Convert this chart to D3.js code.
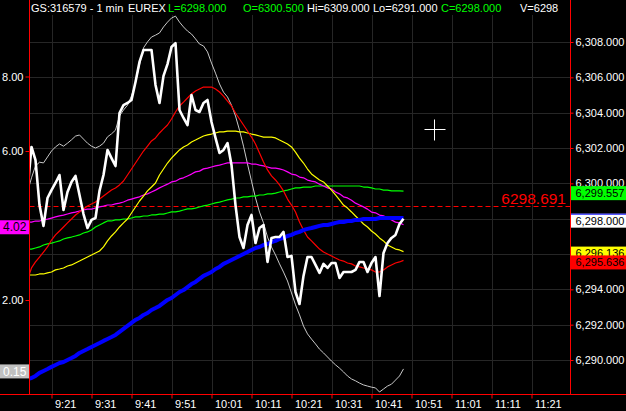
<!DOCTYPE html>
<html><head><meta charset="utf-8">
<script src="https://cdn.jsdelivr.net/npm/d3@7"></script>
<style>
html,body{margin:0;padding:0;background:#000;}
svg{display:block;}
text{font-family:"Liberation Sans",Arial,sans-serif;}
</style></head><body>
<svg id="c" width="626" height="411"></svg>
<script>
// ---------------- DATA ----------------
const headerItems = ["GS:316579 - 1 min", "EUREX", "L=6298.000", "O=6300.500", "Hi=6309.000", "Lo=6291.000", "C=6298.000", "V=6298"];
const firstBarTime = "9:15";
const timeTicks = ["9:21","9:31","9:41","9:51","10:01","10:11","10:21","10:31","10:41","10:51","11:01","11:11","11:21"];
const priceTicks = [6290, 6292, 6294, 6296, 6298, 6300, 6302, 6304, 6306, 6308];
const oscTicks = [0, 2, 4, 6, 8];
const refLevel = 6298.691;

// 1-minute closes (price scale)
const closePrice = [
6299.62,6302.06,6301.32,6298.77,6297.59,6299.17,6299.62,6300.02,6300.47,6298.49,
6299.51,6300.08,6300.42,6299.34,6298.26,6297.47,6297.93,6298.04,6299.57,6300.47,
6301.89,6301.43,6300.98,6303.98,6304.43,6304.55,6304.72,6305.74,6306.87,6307.55,
6307.55,6307.55,6305.57,6304.55,6306.08,6306.75,6307.72,6307.94,6304.15,6303.70,
6303.30,6305.00,6304.15,6304.04,6304.55,6304.72,6303.47,6302.57,6301.72,6301.89,
6302.28,6301.04,6298.77,6296.96,6296.34,6297.64,6298.21,6296.62,6297.47,6297.64,
6295.55,6296.91,6296.96,6296.96,6297.25,6295.83,6295.89,6293.85,6293.17,6294.76,
6295.83,6295.83,6295.38,6294.93,6295.44,6295.21,6295.49,6295.49,6294.64,6294.98,
6294.98,6294.98,6295.10,6295.55,6295.55,6294.98,6295.49,6295.83,6293.62,6296.06,
6296.62,6296.91,6297.08,6297.70,6298.00];

// moving averages (price scale)
const redMA = [
6294.53,6295.21,6295.55,6295.83,6296.11,6296.40,6296.79,6297.08,6297.30,6297.53,
6297.76,6297.98,6298.21,6298.38,6298.55,6298.72,6298.83,6298.94,6299.11,6299.28,
6299.45,6299.62,6299.74,6299.91,6300.13,6300.47,6300.81,6301.15,6301.49,6301.83,
6302.11,6302.40,6302.57,6302.85,6303.08,6303.30,6303.64,6304.04,6304.38,6304.60,
6304.83,6305.06,6305.23,6305.34,6305.45,6305.45,6305.45,6305.34,6305.17,6304.94,
6304.66,6304.38,6303.98,6303.64,6303.30,6302.96,6302.62,6302.23,6301.72,6301.21,
6300.76,6300.42,6300.19,6299.91,6299.57,6299.11,6298.77,6298.38,6297.81,6297.36,
6296.96,6296.74,6296.51,6296.28,6296.11,6296.00,6295.89,6295.77,6295.66,6295.60,
6295.49,6295.44,6295.32,6295.27,6295.21,6295.15,6295.10,6294.98,6294.98,6295.10,
6295.27,6295.38,6295.49,6295.55,6295.636];

const yellowMA = [
6294.81,6294.81,6294.81,6294.87,6294.87,6294.93,6294.98,6295.10,6295.15,6295.21,
6295.32,6295.38,6295.49,6295.60,6295.72,6295.83,6295.94,6296.06,6296.17,6296.40,
6296.74,6297.02,6297.25,6297.53,6297.76,6297.98,6298.32,6298.66,6299.00,6299.28,
6299.57,6299.79,6300.02,6300.47,6300.81,6301.15,6301.43,6301.66,6301.89,6302.06,
6302.17,6302.34,6302.45,6302.57,6302.68,6302.74,6302.79,6302.85,6302.91,6302.91,
6302.96,6302.96,6302.96,6302.91,6302.91,6302.85,6302.79,6302.74,6302.68,6302.62,
6302.62,6302.62,6302.57,6302.45,6302.34,6302.23,6302.06,6301.77,6301.43,6301.15,
6300.81,6300.53,6300.36,6300.19,6300.08,6299.85,6299.62,6299.34,6299.06,6298.77,
6298.60,6298.38,6298.15,6297.93,6297.70,6297.53,6297.30,6297.13,6296.91,6296.74,
6296.51,6296.40,6296.28,6296.23,6296.136];

const greenMA = [
6296.28,6296.28,6296.34,6296.40,6296.51,6296.57,6296.62,6296.68,6296.74,6296.85,
6296.91,6296.96,6297.02,6297.08,6297.19,6297.25,6297.36,6297.53,6297.64,6297.76,
6297.87,6297.87,6297.93,6297.93,6297.98,6297.98,6298.04,6298.10,6298.10,6298.15,
6298.15,6298.21,6298.21,6298.26,6298.26,6298.32,6298.38,6298.38,6298.43,6298.49,
6298.55,6298.55,6298.60,6298.66,6298.72,6298.77,6298.83,6298.89,6298.94,6299.00,
6299.06,6299.11,6299.17,6299.17,6299.23,6299.23,6299.28,6299.28,6299.34,6299.34,
6299.40,6299.40,6299.45,6299.51,6299.57,6299.62,6299.68,6299.74,6299.74,6299.79,
6299.79,6299.79,6299.85,6299.85,6299.85,6299.85,6299.85,6299.85,6299.85,6299.85,
6299.85,6299.85,6299.85,6299.85,6299.79,6299.79,6299.74,6299.68,6299.68,6299.62,
6299.62,6299.57,6299.57,6299.57,6299.557];

const blueMA = [
6288.93,6288.98,6289.10,6289.27,6289.38,6289.49,6289.61,6289.72,6289.83,6289.89,
6290.00,6290.11,6290.23,6290.40,6290.51,6290.62,6290.74,6290.85,6290.96,6291.08,
6291.19,6291.30,6291.42,6291.59,6291.76,6291.93,6292.10,6292.27,6292.38,6292.55,
6292.66,6292.83,6292.94,6293.06,6293.23,6293.40,6293.51,6293.68,6293.85,6293.96,
6294.13,6294.30,6294.42,6294.59,6294.76,6294.87,6294.98,6295.15,6295.27,6295.44,
6295.55,6295.66,6295.77,6295.89,6296.00,6296.11,6296.23,6296.34,6296.40,6296.51,
6296.57,6296.68,6296.74,6296.85,6296.91,6297.02,6297.08,6297.19,6297.25,6297.36,
6297.42,6297.47,6297.53,6297.59,6297.64,6297.64,6297.70,6297.76,6297.81,6297.81,
6297.87,6297.87,6297.93,6297.93,6297.98,6297.98,6297.98,6297.98,6298.04,6298.04,
6298.04,6298.04,6298.04,6298.04,6298.04];

// oscillators (left scale)
const magentaOsc = [
4.09,4.09,4.12,4.12,4.15,4.17,4.20,4.23,4.26,4.28,
4.31,4.34,4.36,4.39,4.42,4.44,4.44,4.47,4.50,4.52,
4.55,4.55,4.58,4.60,4.63,4.68,4.71,4.74,4.77,4.82,
4.85,4.90,4.95,5.01,5.06,5.11,5.17,5.19,5.25,5.28,
5.33,5.38,5.44,5.46,5.52,5.54,5.57,5.60,5.62,5.65,
5.68,5.68,5.68,5.68,5.68,5.68,5.65,5.65,5.62,5.60,
5.57,5.54,5.54,5.52,5.49,5.44,5.38,5.36,5.30,5.28,
5.22,5.19,5.17,5.11,5.06,5.01,4.98,4.90,4.85,4.77,
4.74,4.68,4.60,4.55,4.50,4.44,4.36,4.34,4.28,4.26,
4.20,4.15,4.09,4.07,4.02];

const grayOsc = [
4.90,5.28,5.60,5.70,5.68,5.84,6.00,6.11,6.19,6.13,
6.21,6.30,6.40,6.43,6.32,6.21,6.13,6.08,6.13,6.21,
6.38,6.46,6.56,6.94,7.10,7.23,7.48,7.83,8.31,8.77,
8.93,9.06,9.11,9.17,9.33,9.46,9.57,9.62,9.46,9.33,
9.22,9.14,9.01,8.87,8.82,8.66,8.36,8.09,7.80,7.58,
7.45,7.23,6.94,6.56,6.13,5.65,5.19,4.74,4.36,4.07,
3.69,3.42,3.21,2.97,2.75,2.51,2.19,1.87,1.60,1.30,
1.09,0.95,0.82,0.68,0.58,0.47,0.36,0.26,0.17,0.07,
-0.04,-0.12,-0.17,-0.23,-0.28,-0.31,-0.34,-0.36,-0.47,-0.39,
-0.31,-0.26,-0.15,-0.04,0.15];

// ---------------- DRAWING ----------------
const W = 626, H = 411;
const plotL = 29.5, plotR = 570.5, plotB = 394.5, gridTop = 15;
const toMin = s => { const [h, m] = s.split(":").map(Number); return h * 60 + m; };
const t0 = toMin(firstBarTime);
const tickMin = timeTicks.map(toMin);

const x = d3.scaleLinear().domain([tickMin[0], tickMin[tickMin.length - 1]]).range([51.5, 531.5]);
const yR = d3.scaleLinear().domain([6290, 6308]).range([360, 42]);
const yL = d3.scaleLinear().domain([0, 8]).range([374.5, 76.5]);

const svg = d3.select("#c");
svg.append("rect").attr("width", W).attr("height", H).attr("fill", "#000");

svg.append("clipPath").attr("id", "clip").append("rect")
  .attr("x", plotL + 0.5).attr("y", 0).attr("width", plotR - plotL - 1).attr("height", plotB);

const grid = svg.append("g").attr("stroke", "#262626").attr("stroke-width", 1);
grid.selectAll(".v").data(tickMin).join("line")
  .attr("x1", d => Math.round(x(d)) + 0.5).attr("x2", d => Math.round(x(d)) + 0.5)
  .attr("y1", gridTop).attr("y2", plotB);
grid.selectAll(".h").data(priceTicks).join("line")
  .attr("x1", plotL).attr("x2", plotR)
  .attr("y1", d => Math.round(yR(d)) + 0.5).attr("y2", d => Math.round(yR(d)) + 0.5);

// reference dashed level
svg.append("line").attr("x1", plotL).attr("x2", plotR)
  .attr("y1", Math.round(yR(refLevel)) + 0.5).attr("y2", Math.round(yR(refLevel)) + 0.5)
  .attr("stroke", "#ff0000").attr("stroke-width", 1).attr("stroke-dasharray", "5,3");
svg.append("text").attr("x", 566).attr("y", Math.round(yR(refLevel)) - 2)
  .attr("text-anchor", "end").attr("fill", "#ff0000").attr("font-size", 15.5)
  .text(d3.format(".3f")(refLevel));

const plot = svg.append("g").attr("clip-path", "url(#clip)");
const tx = i => x(t0 + i);
function drawLine(arr, scale, color, width) {
  plot.append("path").datum(arr)
    .attr("fill", "none").attr("stroke", color).attr("stroke-width", width)
    .attr("stroke-linejoin", "round")
    .attr("d", d3.line().x((d, i) => tx(i)).y(d => scale(d)));
}
drawLine(grayOsc, yL, "#c8c8c8", 1);
drawLine(greenMA, yR, "#00ff00", 1.2);
drawLine(magentaOsc, yL, "#ff00ff", 1.2);
drawLine(yellowMA, yR, "#ffff00", 1.2);
drawLine(redMA, yR, "#ff0000", 1.2);
drawLine(blueMA, yR, "#0000ff", 4);
drawLine(closePrice, yR, "#ffffff", 2.6);

// crosshair cursor
const cx = 434.5, cy = 129.5;
svg.append("line").attr("x1", cx - 10).attr("x2", cx + 11).attr("y1", cy).attr("y2", cy).attr("stroke", "#fff");
svg.append("line").attr("x1", cx).attr("x2", cx).attr("y1", cy - 10).attr("y2", cy + 11).attr("stroke", "#fff");

// frame lines
svg.append("line").attr("x1", plotL).attr("x2", plotL).attr("y1", 0).attr("y2", plotB).attr("stroke", "#ff0000");
svg.append("line").attr("x1", plotR).attr("x2", plotR).attr("y1", 0).attr("y2", plotB).attr("stroke", "#ff0000");
svg.append("line").attr("x1", 0).attr("x2", W).attr("y1", plotB).attr("y2", plotB).attr("stroke", "#ff0000");

function styleAxis(g) {
  g.select(".domain").remove();
  g.selectAll(".tick line").attr("stroke", "#ff0000");
  g.selectAll(".tick text").attr("fill", "#ffffff").attr("font-size", 11)
    .attr("font-family", '"Liberation Sans",Arial,sans-serif');
}

// value boxes (last values)
const fmtP = d3.format(",.3f");
const rightBoxes = [
  { v: greenMA[greenMA.length - 1], bg: "#00ff00", fg: "#000" },
  { v: closePrice[closePrice.length - 1], bg: "#ffffff", fg: "#000", top: "#0000ff" },
  { v: yellowMA[yellowMA.length - 1], bg: "#ffff00", fg: "#000" },
  { v: redMA[redMA.length - 1], bg: "#ff0000", fg: "#000" }
];
const fmtO = d3.format(".2f");
const leftBoxes = [
  { v: magentaOsc[magentaOsc.length - 1], bg: "#ff00ff", fg: "#000" },
  { v: grayOsc[grayOsc.length - 1], bg: "#c0c0c0", fg: "#ffffff" }
];
// a tick label fully hidden behind a value box is not drawn
const hiddenR = t => rightBoxes.some(b => Math.abs(yR(b.v) + 2 - yR(t)) < 4);
const hiddenL = t => leftBoxes.some(b => Math.abs(yL(b.v) + 2.5 - yL(t)) < 7);

// bottom time axis
const gx = svg.append("g").attr("transform", `translate(0,${plotB})`)
  .call(d3.axisBottom(x).tickValues(tickMin).tickFormat((d, i) => timeTicks[i]).tickSize(4).tickPadding(2));
styleAxis(gx);
gx.selectAll(".tick text").attr("text-anchor", "start").attr("x", 3);

// right price axis
const gr = svg.append("g").attr("transform", `translate(${plotR},0)`)
  .call(d3.axisRight(yR).tickValues(priceTicks).tickFormat(d => hiddenR(d) ? "" : fmtP(d)).tickSize(3).tickPadding(2));
styleAxis(gr);

// left oscillator axis
const gl = svg.append("g").attr("transform", `translate(${plotL},0)`)
  .call(d3.axisLeft(yL).tickValues(oscTicks).tickFormat(d => hiddenL(d) ? "" : fmtO(d)).tickSize(4).tickPadding(2));
styleAxis(gl);

rightBoxes.forEach(b => {
  const c = yR(b.v) + 2;
  const g = svg.append("g");
  g.append("rect").attr("x", plotR + 0.5).attr("y", c - 7).attr("width", W - plotR).attr("height", 14).attr("fill", b.bg);
  if (b.top) g.append("line").attr("x1", plotR + 0.5).attr("x2", W).attr("y1", c - 6.5).attr("y2", c - 6.5).attr("stroke", b.top);
  g.append("text").attr("x", 575.5).attr("y", c).attr("dy", "0.35em").attr("fill", b.fg).attr("font-size", 11).text(fmtP(b.v));
});

leftBoxes.forEach(b => {
  const c = yL(b.v) + 2.5;
  svg.append("rect").attr("x", 0).attr("y", c - 7).attr("width", plotL - 0.5).attr("height", 14).attr("fill", b.bg);
  svg.append("text").attr("x", 3).attr("y", c).attr("dy", "0.35em").attr("fill", b.fg).attr("font-size", 12).text(fmtO(b.v));
});

// header
const hx = [31, 128, 168, 243, 307, 373, 441, 520];
const hc = ["#fff", "#fff", "#00ff00", "#00ff00", "#fff", "#fff", "#00ff00", "#fff"];
svg.append("rect").attr("x", plotL + 0.5).attr("y", 0).attr("width", plotR - plotL - 1).attr("height", 14).attr("fill", "#000");
svg.selectAll(".hdr").data(headerItems).join("text")
  .attr("x", (d, i) => hx[i]).attr("y", 12).attr("fill", (d, i) => hc[i]).attr("font-size", 11).text(d => d);
</script>
</body></html>
